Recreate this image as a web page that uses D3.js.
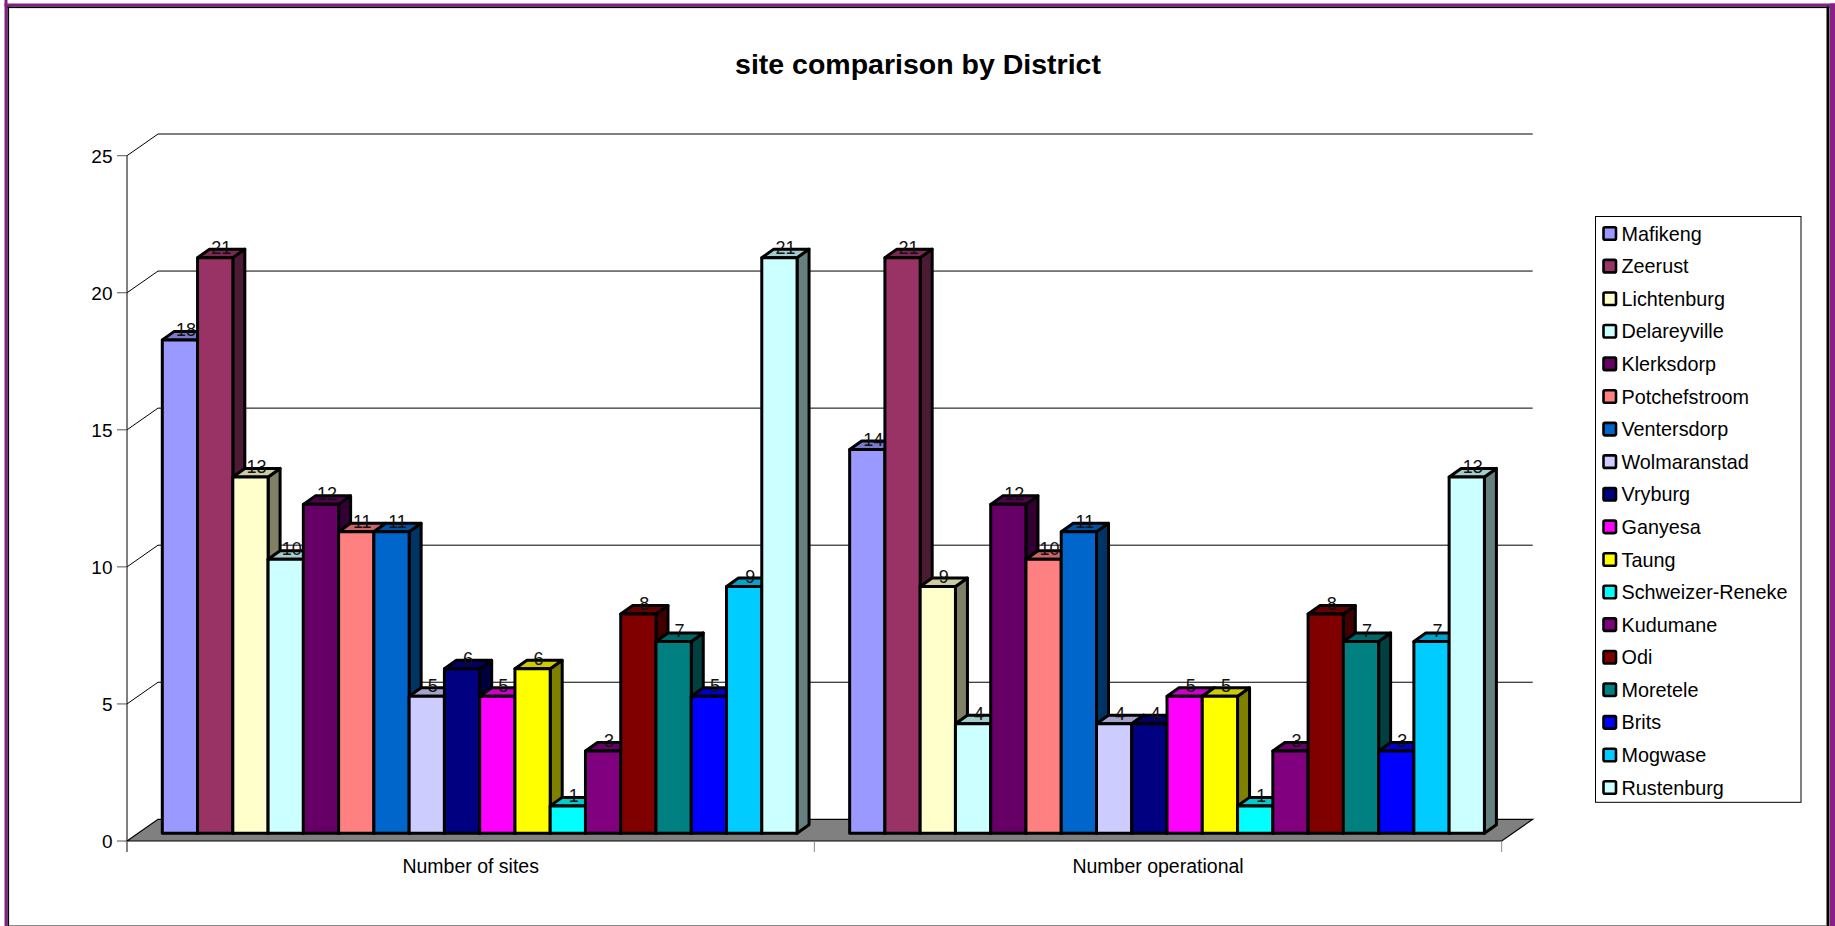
<!DOCTYPE html>
<html>
<head>
<meta charset="utf-8">
<title>site comparison by District</title>
<script src="https://cdn.jsdelivr.net/npm/d3@7"></script>
<style>
  body { margin: 0; background: #fff; }
  svg { display: block; }
  text { font-family: "Liberation Sans", Arial, Helvetica, sans-serif; fill: #000; }
</style>
</head>
<body>
<svg id="chart" width="1835" height="926"></svg>
<script>
// ---- data ----
const chartTitle = "site comparison by District";
const categories = ["Number of sites", "Number operational"];
const districts = [
  "Mafikeng", "Zeerust", "Lichtenburg", "Delareyville", "Klerksdorp", "Potchefstroom",
  "Ventersdorp", "Wolmaranstad", "Vryburg", "Ganyesa", "Taung", "Schweizer-Reneke",
  "Kudumane", "Odi", "Moretele", "Brits", "Mogwase", "Rustenburg"
];
const districtColors = [
  "#9999FF", "#993366", "#FFFFCC", "#CCFFFF", "#660066", "#FF8080",
  "#0066CC", "#CCCCFF", "#000080", "#FF00FF", "#FFFF00", "#00FFFF",
  "#800080", "#800000", "#008080", "#0000FF", "#00CCFF", "#CCFFFF"
];
const numberOfSites     = [18, 21, 13, 10, 12, 11, 11, 5, 6, 5, 6, 1, 3, 8, 7, 5, 9, 21];
const numberOperational = [14, 21,  9,  4, 12, 10, 11, 4, 4, 5, 5, 1, 3, 8, 7, 3, 7, 13];
const yTicks = [0, 5, 10, 15, 20, 25];

// ---- layout ----
const W = 1835, H = 926;
const plot = { left: 127, right: 1501.7, top: 155.7, bottom: 841 };
const wallDepth = [31, -21.7];   // oblique offset of the back wall
const barOffset = [9, -7.7];     // front face of the columns, relative to the front plane
const barDepth = [12, -8.5];     // column thickness
const catPad = 26.3;

const svg = d3.select("#chart");

// rows: one per category/district pair
const seriesByCategory = [numberOfSites, numberOperational];
const rows = [];
categories.forEach((cat, ci) => {
  districts.forEach((d, di) => {
    rows.push({ cat, district: d, value: seriesByCategory[ci][di], color: districtColors[di] });
  });
});

const y = d3.scaleLinear().domain([0, 25]).range([plot.bottom, plot.top]);
const x0 = d3.scaleBand().domain(categories).range([plot.left, plot.right]);
const x1 = d3.scaleBand().domain(districts).range([catPad, x0.bandwidth() - catPad]);
const color = d3.scaleOrdinal().domain(districts).range(districtColors);

function shade(c, k) {
  const r = d3.rgb(c);
  return d3.rgb(r.r * k, r.g * k, r.b * k).formatHex();
}

// ---- frame ----
svg.append("rect").attr("width", W).attr("height", H).attr("fill", "#fff");
const frame = svg.append("g");
frame.append("rect").attr("x", 4.5).attr("y", 0).attr("width", 3).attr("height", H).attr("fill", "#871f87");
frame.append("rect").attr("x", 4.5).attr("y", 3.5).attr("width", W - 4.5).attr("height", 3).attr("fill", "#871f87");
frame.append("rect").attr("x", 1830).attr("y", 3.5).attr("width", 5).attr("height", H).attr("fill", "#871f87");
frame.append("rect").attr("x", 7.5).attr("y", 6.5).attr("width", 1.6).attr("height", H).attr("fill", "#000");
frame.append("rect").attr("x", 7.5).attr("y", 6.5).attr("width", 1822).attr("height", 1.6).attr("fill", "#000");
frame.append("rect").attr("x", 1826.5).attr("y", 6.5).attr("width", 3).attr("height", H).attr("fill", "#000");
frame.append("line").attr("x1", 9).attr("x2", 1826).attr("y1", 925.5).attr("y2", 925.5)
  .attr("stroke", "#888").attr("stroke-width", 1);

// ---- title ----
svg.append("text")
  .attr("x", 918).attr("y", 74)
  .attr("text-anchor", "middle")
  .style("font-size", "28.5px").style("font-weight", "bold")
  .text(chartTitle);

// ---- walls and gridlines ----
const grid = svg.append("g");
yTicks.filter(t => t > 0).forEach(t => {
  const yy = y(t);
  grid.append("path")
    .attr("d", `M${plot.left},${yy} L${plot.left + wallDepth[0]},${yy + wallDepth[1]} L${plot.right + wallDepth[0]},${yy + wallDepth[1]}`)
    .attr("fill", "none").attr("stroke", "#000").attr("stroke-width", 1);
});

// floor
const yb = y(0);
svg.append("path")
  .attr("d", `M${plot.left},${yb} L${plot.left + wallDepth[0]},${yb + wallDepth[1]} L${plot.right + wallDepth[0]},${yb + wallDepth[1]} L${plot.right},${yb} Z`)
  .attr("fill", "#808080").attr("stroke", "#000").attr("stroke-width", 1.2);

// ---- value axis ----
const yAxisG = svg.append("g");
yAxisG.append("line")
  .attr("x1", plot.left).attr("x2", plot.left)
  .attr("y1", y(25)).attr("y2", plot.bottom + 11)
  .attr("stroke", "#000").attr("stroke-width", 1);
yTicks.forEach(t => {
  yAxisG.append("line")
    .attr("x1", plot.left - 10).attr("x2", plot.left)
    .attr("y1", y(t)).attr("y2", y(t))
    .attr("stroke", "#555").attr("stroke-width", 1);
  yAxisG.append("text")
    .attr("x", plot.left - 14.5).attr("y", y(t))
    .attr("dy", "0.36em")
    .attr("text-anchor", "end")
    .style("font-size", "19px")
    .text(t);
});

// ---- category axis ----
const xAxisG = svg.append("g");
const catEdges = [plot.left].concat(categories.map(c => x0(c) + x0.bandwidth()));
catEdges.forEach(xx => {
  xAxisG.append("line")
    .attr("x1", xx).attr("x2", xx)
    .attr("y1", plot.bottom).attr("y2", plot.bottom + 11)
    .attr("stroke", "#888").attr("stroke-width", 1);
});
categories.forEach(c => {
  xAxisG.append("text")
    .attr("x", x0(c) + x0.bandwidth() / 2).attr("y", plot.bottom + 32)
    .attr("text-anchor", "middle")
    .style("font-size", "19.5px")
    .text(c);
});

// ---- 3D columns ----
const bw = x1.bandwidth();
const bars = svg.append("g")
  .attr("stroke", "#000").attr("stroke-width", 3).attr("stroke-linejoin", "round");

rows.forEach(r => {
  const xl = x0(r.cat) + x1(r.district) + barOffset[0];
  const xr = xl + bw;
  const yt = y(r.value) + barOffset[1];
  const ybot = y(0) + barOffset[1];
  const dx = barDepth[0], dy = barDepth[1];
  const g = bars.append("g");
  // right side
  g.append("path")
    .attr("d", `M${xr},${yt} L${xr + dx},${yt + dy} L${xr + dx},${ybot + dy} L${xr},${ybot} Z`)
    .attr("fill", shade(r.color, 0.5));
  // top
  g.append("path")
    .attr("d", `M${xl},${yt} L${xl + dx},${yt + dy} L${xr + dx},${yt + dy} L${xr},${yt} Z`)
    .attr("fill", shade(r.color, 0.8));
  // front
  g.append("rect")
    .attr("x", xl).attr("y", yt)
    .attr("width", bw).attr("height", ybot - yt)
    .attr("fill", r.color);
});

// value labels
const labels = svg.append("g");
rows.forEach(r => {
  const xl = x0(r.cat) + x1(r.district) + barOffset[0];
  labels.append("text")
    .attr("x", xl + bw / 2 + barDepth[0] / 2)
    .attr("y", y(r.value) + barOffset[1] - 4)
    .attr("text-anchor", "middle")
    .style("font-size", "18px")
    .style("fill", "#111")
    .text(r.value);
});

// ---- legend ----
const legend = svg.append("g");
legend.append("rect")
  .attr("x", 1595.5).attr("y", 216.5)
  .attr("width", 1801 - 1595.5).attr("height", 802.3 - 216.5)
  .attr("fill", "#fff").attr("stroke", "#000").attr("stroke-width", 1);
const legendStep = (787.5 - 233.5) / (districts.length - 1);
districts.forEach((d, i) => {
  const cy = 233.5 + i * legendStep;
  legend.append("rect")
    .attr("x", 1603.5).attr("y", cy - 6.2)
    .attr("width", 12.5).attr("height", 12.5)
    .attr("rx", 1.5)
    .attr("fill", color(d)).attr("stroke", "#000").attr("stroke-width", 2.6);
  legend.append("text")
    .attr("x", 1621.5).attr("y", cy)
    .attr("dy", "0.36em")
    .style("font-size", "19.8px")
    .text(d);
});
</script>
</body>
</html>
